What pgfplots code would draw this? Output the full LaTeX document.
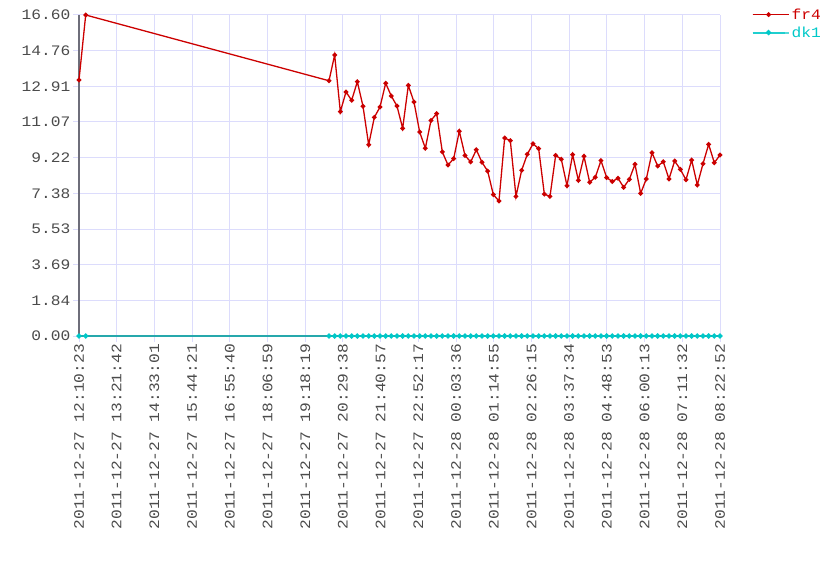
\documentclass[border=0pt]{standalone}
\usepackage{fontspec}
\setmainfont{Liberation Mono}[FakeStretch=1.12]
\usepackage{pgfplots}
\pgfplotsset{compat=1.18}
\usepackage{pgfplotstable}

\definecolor{gridc}{RGB}{220,220,252}
\definecolor{axisc}{RGB}{110,110,122}
\definecolor{txtc}{RGB}{75,75,75}
\definecolor{fr4c}{RGB}{204,0,0}
\definecolor{dk1c}{RGB}{0,200,200}

% t = seconds since 2011-12-27 12:10:23
\pgfplotstableread{
t      fr4    dk1
0      13.24  0
760    16.60  0
28373  13.20  0
29016  14.53  0
29659  11.60  0
30302  12.62  0
30945  12.19  0
31589  13.15  0
32232  11.88  0
32875  9.89   0
33518  11.31  0
34161  11.84  0
34804  13.07  0
35447  12.41  0
36090  11.89  0
36733  10.74  0
37376  12.96  0
38020  12.10  0
38663  10.55  0
39306  9.71   0
39949  11.15  0
40592  11.50  0
41235  9.52   0
41878  8.84   0
42521  9.17   0
43164  10.59  0
43807  9.34   0
44451  9.00   0
45094  9.63   0
45737  8.98   0
46380  8.53   0
47023  7.31   0
47666  6.98   0
48309  10.24  0
48952  10.10  0
49595  7.22   0
50238  8.57   0
50882  9.40   0
51525  9.94   0
52168  9.69   0
52811  7.34   0
53454  7.22   0
54097  9.34   0
54740  9.14   0
55383  7.77   0
56026  9.38   0
56669  8.05   0
57313  9.29   0
57956  7.95   0
58599  8.21   0
59242  9.07   0
59885  8.19   0
60528  7.99   0
61171  8.16   0
61814  7.69   0
62457  8.10   0
63100  8.88   0
63744  7.38   0
64387  8.12   0
65030  9.48   0
65673  8.79   0
66316  9.01   0
66959  8.12   0
67602  9.05   0
68245  8.62   0
68888  8.08   0
69531  9.10   0
70175  7.81   0
70818  8.91   0
71461  9.91   0
72104  8.96   0
72749  9.36   0
}\data

\begin{document}
\begin{tikzpicture}[x=1pt,y=1pt]
\useasboundingbox (0,0) rectangle (840,560);
\begin{axis}[
  at={(79pt,224pt)}, anchor=south west,
  scale only axis, width=641pt, height=321pt,
  xmin=0, xmax=72749, ymin=0, ymax=16.6,
  scaled x ticks=false,
  clip=false,
  axis x line*=bottom, axis y line*=left,
  axis line style={-, axisc, line width=2pt},
  grid=major,
  major grid style={gridc, line width=1pt},
  tick style={gridc, line width=1pt},
  major tick length=6pt,
  tick align=outside,
  tick label style={font=\fontsize{14.5}{16}\selectfont, text=txtc},
  yticklabel style={inner sep=2.5pt},
  xticklabel style={rotate=90, anchor=east, inner sep=2pt},
  ytick={0,1.8444,3.6889,5.5333,7.3778,9.2222,11.0667,12.9111,14.7556,16.6},
  yticklabels={0.00,1.84,3.69,5.53,7.38,9.22,11.07,12.91,14.76,16.60},
  xtick={0,4279.35,8558.7,12838.05,17117.4,21396.75,25676.1,29955.45,34234.8,38514.15,42793.5,47072.85,51352.2,55631.55,59910.9,64190.25,68469.6,72749},
  xticklabels={
    2011-12-27 12:10:23,2011-12-27 13:21:42,2011-12-27 14:33:01,
    2011-12-27 15:44:21,2011-12-27 16:55:40,2011-12-27 18:06:59,
    2011-12-27 19:18:19,2011-12-27 20:29:38,2011-12-27 21:40:57,
    2011-12-27 22:52:17,2011-12-28 00:03:36,2011-12-28 01:14:55,
    2011-12-28 02:26:15,2011-12-28 03:37:34,2011-12-28 04:48:53,
    2011-12-28 06:00:13,2011-12-28 07:11:32,2011-12-28 08:22:52},
  legend image code/.code={
    \path (0pt,0pt) -- (36pt,0pt);
    \draw[mark repeat=2, mark phase=2, #1] plot coordinates {(0pt,0pt) (16pt,0pt) (32pt,0pt)};
  },
  legend style={at={(1.049,1.027)}, anchor=north west, draw=none, fill=none,
    inner sep=0pt, row sep=2pt,
    font=\fontsize{14.5}{16}\selectfont, cells={anchor=west}},
]
\addplot[color=fr4c, line width=1.3pt, mark=*, mark size=1.7pt,
  mark options={fill=fr4c!92!black, draw=none}]
  table[x=t, y=fr4]{\data};
\addlegendentry{\textcolor{fr4c}{fr4}}
\addplot[color=dk1c, draw opacity=0.65, line width=2pt, mark=*, mark size=1.5pt,
  mark options={fill=dk1c, draw=none, opacity=1}]
  table[x=t, y=dk1]{\data};
\addlegendentry{\textcolor{dk1c}{dk1}}
\end{axis}
\end{tikzpicture}
\end{document}
